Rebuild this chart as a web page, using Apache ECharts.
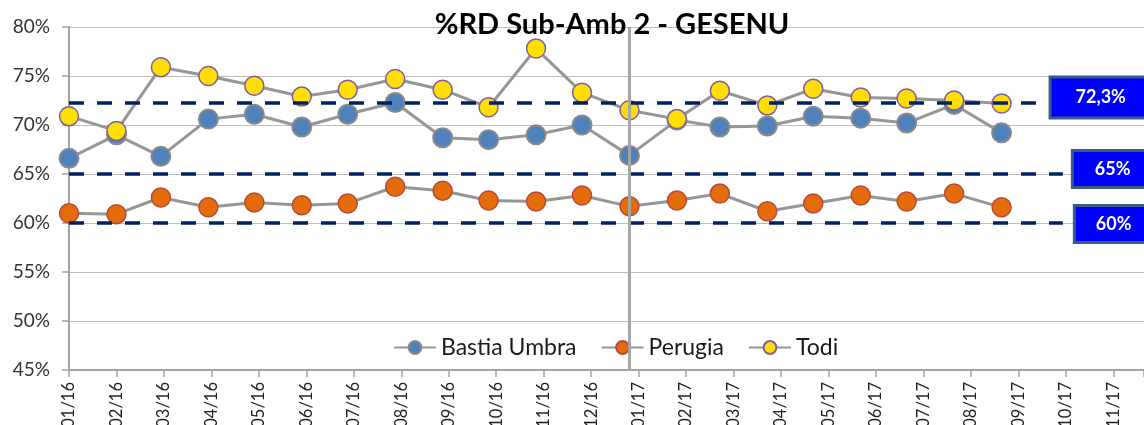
<!DOCTYPE html>
<html>
<head>
<meta charset="utf-8">
<title>%RD Sub-Amb 2 - GESENU</title>
<script src="https://cdn.jsdelivr.net/npm/echarts@6.0.0/dist/echarts.min.js"></script>
<style>
  html, body { margin: 0; padding: 0; background: #fff; }
  #chart { width: 1144px; height: 425px; }
</style>
</head>
<body>
<div id="chart"></div>
<script>
// ── Data ──────────────────────────────────────────────────────────────────
const months = [
  '2016-01', '2016-02', '2016-03', '2016-04', '2016-05', '2016-06', '2016-07',
  '2016-08', '2016-09', '2016-10', '2016-11', '2016-12', '2017-01', '2017-02',
  '2017-03', '2017-04', '2017-05', '2017-06', '2017-07', '2017-08', '2017-09'
]
const bastiaUmbra = [66.6, 69.0, 66.8, 70.6, 71.1, 69.8, 71.1, 72.3, 68.7, 68.5, 69.0,
  70.0, 66.9, 70.5, 69.8, 69.9, 70.9, 70.7, 70.2, 72.1, 69.2]
const perugia = [61.0, 60.9, 62.6, 61.6, 62.1, 61.8, 62.0, 63.7, 63.3, 62.3, 62.2,
  62.8, 61.7, 62.3, 63.0, 61.2, 62.0, 62.8, 62.2, 63.0, 61.6]
const todi = [70.9, 69.4, 75.9, 75.0, 74.0, 72.9, 73.6, 74.7, 73.6, 71.8, 77.8,
  73.3, 71.5, 70.6, 73.5, 72.0, 73.7, 72.8, 72.7, 72.5, 72.2]

// tick labels of the date axis (one tick every 31 days from 01/01/2016)
const tickLabels = ['01/16', '02/16', '03/16', '04/16', '05/16', '06/16', '07/16', '08/16',
  '09/16', '10/16', '11/16', '12/16', '01/17', '02/17', '03/17', '04/17', '05/17', '06/17',
  '07/17', '08/17', '09/17', '10/17', '11/17']

const refValues = [72.3, 65, 60]
const refLabels = ['72,3%', '65%', '60%']
const yearMark = '2017-01'

// ── Helpers ───────────────────────────────────────────────────────────────
const DAY = 86400000
const ORIGIN = Date.UTC(2016, 0, 1)
const TICK_DAYS = 31
const AXIS_END = 702

function dayOf(ym) {
  const [y, m] = ym.split('-').map(Number)
  return Math.round((Date.UTC(y, m - 1, 1) - ORIGIN) / DAY)
}

function pairs(values) {
  return values.map((v, i) => [dayOf(months[i]), v])
}

const FONT = 'Lato, "Noto Sans", sans-serif'
const LINE_GREY = '#a3a3a3'
const SERIES_GREY = '#969696'

function station(name, values, fill, border, borderWidth) {
  return {
    name,
    type: 'line',
    data: pairs(values),
    symbol: 'circle',
    symbolSize: 19,
    z: 3,
    lineStyle: { color: SERIES_GREY, width: 3 },
    itemStyle: { color: fill, borderColor: border, borderWidth },
  }
}

// ── Reference lines ───────────────────────────────────────────────────────
const refEnds = [641, 649, 649]
const refGaps = [1, 11, 13]
const refShift = [-5, -5, 1]
const refPads = [[10, 40, 10, 24], [8, 40, 8, 21], [8, 40, 8, 20]]

const refLines = refValues.map((v, i) => [
  {
    coord: [0, v],
    label: {
      show: true,
      position: 'end',
      distance: refGaps[i],
      offset: [0, refShift[i]],
      formatter: refLabels[i],
      color: '#fff',
      fontFamily: FONT,
      fontWeight: 'bold',
      fontSize: 18,
      backgroundColor: '#0000ff',
      borderColor: '#3a5a88',
      borderWidth: 3,
      padding: refPads[i],
    },
  },
  { coord: [refEnds[i], v] },
])

// ── Chart ─────────────────────────────────────────────────────────────────
const chart = echarts.init(document.getElementById('chart'))

chart.setOption({
  animation: false,
  title: {
    text: '%RD Sub-Amb 2 - GESENU',
    left: 607,
    top: 5,
    textAlign: 'center',
    textStyle: { fontFamily: FONT, fontWeight: 'bold', fontSize: 29, color: '#000' },
  },
  legend: {
    data: ['Bastia Umbra', 'Perugia', 'Todi'],
    left: 388,
    top: 331,
    itemWidth: 42,
    itemHeight: 16,
    itemGap: 24,
    textStyle: { fontFamily: FONT, fontSize: 23, color: '#1a1a1a' },
  },
  grid: {
    left: 69, top: 27, right: 0, bottom: 55,
    containLabel: false,
    outerBoundsMode: 'none',
  },
  xAxis: {
    type: 'value',
    min: 0,
    max: AXIS_END,
    interval: TICK_DAYS,
    axisLine: { lineStyle: { color: LINE_GREY, width: 2 } },
    axisTick: { show: true, length: 7, lineStyle: { color: LINE_GREY, width: 1.5 } },
    splitLine: { show: false },
    axisLabel: {
      rotate: 90,
      margin: 12,
      fontFamily: FONT,
      fontSize: 16.5,
      color: '#1f1f1f',
      formatter: (v) => {
        const i = v / TICK_DAYS
        return Number.isInteger(i) && tickLabels[i] ? tickLabels[i] : ''
      },
    },
  },
  yAxis: {
    type: 'value',
    min: 45,
    max: 80,
    interval: 5,
    axisLine: { show: true, lineStyle: { color: LINE_GREY, width: 2 } },
    axisTick: { show: true, length: 7, lineStyle: { color: LINE_GREY, width: 1.5 } },
    splitLine: { lineStyle: { color: '#bdbdbd', width: 1.2 } },
    axisLabel: {
      margin: 19,
      fontFamily: FONT,
      fontSize: 19,
      color: '#333',
      formatter: '{value}%',
    },
  },
  series: [
    {
      name: 'refs',
      type: 'line',
      data: [],
      z: 1,
      markLine: {
        silent: true,
        symbol: 'none',
        lineStyle: { color: '#002060', width: 3.5, type: [15, 13] },
        data: refLines,
      },
    },
    station('Bastia Umbra', bastiaUmbra, '#4f81bd', '#8a8a8a', 2),
    station('Perugia', perugia, '#e46c0a', '#b94a3a', 1.5),
    station('Todi', todi, '#ffde00', '#7b5fa6', 1.5),
    {
      name: 'year',
      type: 'line',
      data: [],
      z: 6,
      markLine: {
        silent: true,
        symbol: 'none',
        label: { show: false },
        lineStyle: { color: '#a6a6a6', width: 3, type: 'solid' },
        data: [{ xAxis: dayOf(yearMark) }],
      },
    },
  ],
})
</script>
</body>
</html>
